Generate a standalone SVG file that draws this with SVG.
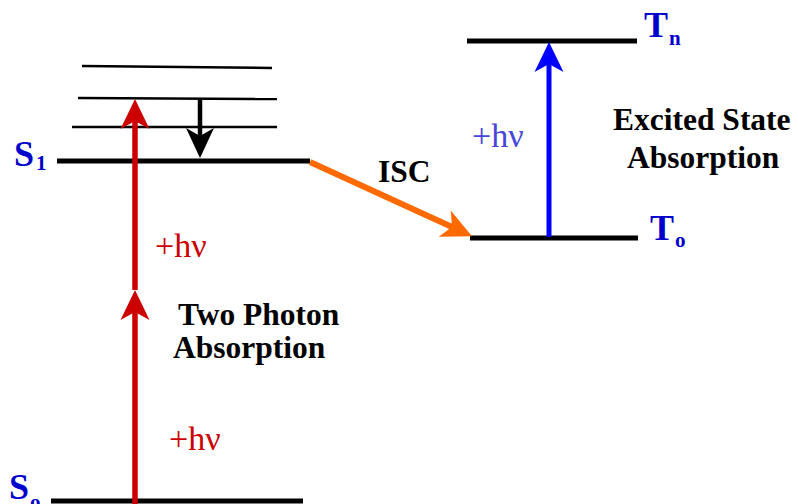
<svg xmlns="http://www.w3.org/2000/svg" width="798" height="504" viewBox="0 0 798 504">
<style>
.lvl{stroke:#000;stroke-width:5;fill:none}
.vib{stroke:#000;stroke-width:2.5;fill:none}
.lab{font-family:"Liberation Serif","Times New Roman",serif;font-weight:bold;fill:#0000cc}
.big{font-size:36px}
.sub{font-size:21px}
.txt{font-family:"Liberation Serif","Times New Roman",serif;font-weight:bold;font-size:31.5px;fill:#000}
.hv{font-family:"Liberation Serif","Times New Roman",serif;font-size:34px}
</style>
<defs>
<marker id="hRed" markerUnits="userSpaceOnUse" viewBox="-9 -15 32 30" refX="0" refY="0" markerWidth="32" markerHeight="30" orient="auto"><path d="M22,0 L-8,-14.5 L0,0 L-8,14.5 Z" fill="#cc0000"/></marker>
<marker id="hBlk" markerUnits="userSpaceOnUse" viewBox="-9 -15 32 30" refX="0" refY="0" markerWidth="32" markerHeight="30" orient="auto"><path d="M22,0 L-8,-14 L0,0 L-8,14 Z" fill="#000"/></marker>
<marker id="hBlu" markerUnits="userSpaceOnUse" viewBox="-9 -15 32 30" refX="0" refY="0" markerWidth="32" markerHeight="30" orient="auto"><path d="M22,0 L-8,-14.5 L0,0 L-8,14.5 Z" fill="#0000ff"/></marker>
<marker id="hOr" markerUnits="userSpaceOnUse" viewBox="-9 -15 32 30" refX="0" refY="0" markerWidth="32" markerHeight="30" orient="auto"><path d="M22,0 L-8,-14.5 L0,0 L-8,14.5 Z" fill="#ff6a00"/></marker>
</defs>
<g id="S0">
<line class="lvl" x1="51" y1="501" x2="303" y2="501"/>
<text class="lab big" x="9" y="499">S</text>
<text class="lab sub" x="30" y="509">o</text>
</g>
<g id="S1">
<line class="lvl" x1="57" y1="161" x2="310" y2="161"/>
<line class="vib" x1="72" y1="127" x2="277" y2="127"/>
<line class="vib" x1="78" y1="98" x2="277" y2="99"/>
<line class="vib" x1="82" y1="66" x2="272" y2="68"/>
<text class="lab big" x="14" y="166">S</text>
<text class="lab sub" x="36" y="170">1</text>
</g>
<g id="T0">
<line class="lvl" x1="470" y1="238" x2="638" y2="238"/>
<text class="lab big" x="650" y="240">T</text>
<text class="lab sub" x="675" y="247">o</text>
</g>
<g id="Tn">
<line class="lvl" x1="467" y1="41" x2="637" y2="41"/>
<text class="lab big" x="644" y="37">T</text>
<text class="lab sub" x="669" y="45">n</text>
</g>
<g id="connectors">
<line x1="135" y1="504" x2="135" y2="312" stroke="#cc0000" stroke-width="5.5" marker-end="url(#hRed)"/>
<line x1="135" y1="290" x2="135" y2="121" stroke="#cc0000" stroke-width="5.5" marker-end="url(#hRed)"/>
<line x1="200" y1="99" x2="200" y2="136" stroke="#000" stroke-width="4.5" marker-end="url(#hBlk)"/>
<line x1="310" y1="162" x2="452" y2="227" stroke="#ff6a00" stroke-width="6" marker-end="url(#hOr)"/>
<line x1="549" y1="237" x2="549" y2="64" stroke="#0000ff" stroke-width="5" marker-end="url(#hBlu)"/>
</g>
<g id="labels">
<text class="hv" x="155" y="257" fill="#cc0000">+hν</text>
<text class="hv" x="169" y="450" fill="#cc0000">+hν</text>
<text class="hv" x="472" y="147" fill="#4646d8">+hν</text>
<text class="txt" x="378" y="182">ISC</text>
<text class="txt" x="178" y="325">Two Photon</text>
<text class="txt" x="173" y="358">Absorption</text>
<text class="txt" x="613" y="130">Excited State</text>
<text class="txt" x="627" y="168">Absorption</text>
</g>
</svg>
